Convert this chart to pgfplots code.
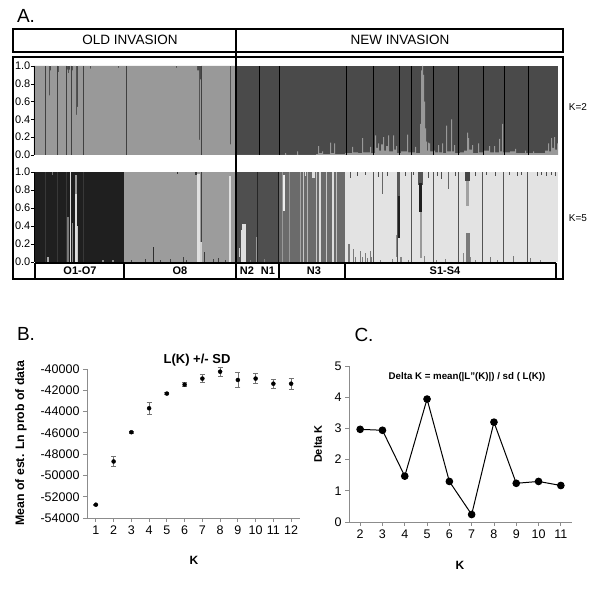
\documentclass[border=0pt]{standalone}
\usepackage{fontspec}
\setmainfont{Liberation Sans}
\usepackage{pgfplots}
\pgfplotsset{compat=1.18}
\newcommand{\bx}[5]{\addplot[draw=none,fill=#1,forget plot] coordinates {(#2,#4)(#2,#5)(#3,#5)(#3,#4)} -- cycle;}
\newcommand{\fs}[1]{\fontsize{#1}{#1}\selectfont}
\pgfplotsset{
  structax/.style={anchor=south west, scale only axis, width=524pt, xmin=34, xmax=558, ymin=0, ymax=1,
    axis x line=none, axis y line*=left, axis line style={black, line width=0.6pt},
    ytick={0,0.2,0.4,0.6,0.8,1}, yticklabels={0.0,0.2,0.4,0.6,0.8,1.0},
    tick align=outside, major tick length=3pt, tick style={black},
    y tick label style={font=\fs{11}, inner sep=0.5pt}, axis on top, clip=true},
  smallax/.style={anchor=south west, scale only axis, axis x line*=bottom, axis y line*=left,
    axis line style={draw=black!45, line width=0.8pt}, tick style={black!45, line width=0.8pt},
    tick align=outside, major tick length=4pt, tick label style={font=\fs{12.5}}, clip=false,
    scaled ticks=false, /pgf/number format/assume math mode=true}
}
\begin{document}
\begin{tikzpicture}[x=1pt,y=1pt]
\path[use as bounding box] (0pt,0pt) rectangle (600pt,597pt);

% ---------------- K=2 ----------------
\begin{axis}[structax, at={(34pt,442pt)}, height=89pt]
\addplot[draw=none, fill=black!71] coordinates {(34,1)(558,1)} \closedcycle;
\addplot[const plot, draw=none, fill=black!40] coordinates {
(34,1)(49,0.67)(50,0.95)(51,1)(58,0.93)(59,1)(67,0.96)(68,0.92)(69,0.96)(70,1)(72,0.95)(73,1)(76,0.45)(77,0.54)(78,1)(90,0.97)(91,1)(118,0.98)(119,1)(176,0.98)(177,1)(197,0.95)(199,0.17)(200,0.85)(201,1)(230,0.12)(231,1)
(236,0)(285,0.02)(286,0)(297,0.04)(298,0)(316,0.01)(318,0.1)(319,0.02)(322,0.04)(323,0.01)(330,0.14)(331,0.02)(334,0.13)(335,0.01)(345,0.02)(352,0.09)(353,0.03)(358,0.02)(362,0.19)(363,0.03)(370,0.09)(371,0.02)(375,0.22)(376,0.08)(378,0.13)(379,0.05)(381,0.12)(383,0.2)(384,0.05)(386,0.1)(388,0.22)(389,0.04)(393,0.22)(394,0.06)(396,0.1)(397,0.02)(401,0.04)(407,0.23)(408,0.03)(413,0.03)(415,0.09)(416,0.02)(420,0.35)(421,0.95)(422,1)(423,0.9)(424,0.6)(425,0.3)(426,0.15)(427,0.05)(428,0.14)(429,0.13)(430,0.04)(433,0.05)(435,0.03)(438,0.11)(439,0.03)(442,0.13)(443,0.02)(446,0.33)(447,0.04)(451,0.4)(452,0.04)(454,0.11)(455,0.02)(460,0.03)(464,0.05)(467,0.25)(468,0.19)(469,0.06)(472,0.11)(473,0.02)(478,0.13)(479,0.03)(484,0.05)(489,0.1)(490,0.03)(494,0.1)(495,0.03)(499,0.18)(500,0.04)(502,0.35)(503,0.03)(510,0.04)(515,0.07)(516,0.02)(525,0.05)(526,0.02)(533,0.04)(534,0.02)(545,0.05)(548,0.13)(549,0.04)(551,0.19)(552,0.08)(554,0.2)(555,0.06)(557,0.13)(558,0.13)
} \closedcycle;
\addplot[ycomb, black!75, line width=0.5pt, mark=none] coordinates {(45,1)(57,1)(66,1)(71,1)(83,1)(126,1)(201,1)};
\addplot[ycomb, black, line width=0.5pt, mark=none] coordinates {(259,1)(279,1)(346,1)(373,1)(399,1)(411,1)(433,1)(458,1)(483,1)(504,1)(528,1)};
\end{axis}

% ---------------- K=5 ----------------
\begin{axis}[structax, at={(34pt,335pt)}, height=90pt]
\bx{black!88}{34}{124}{0}{1}
\bx{black!39}{124}{236}{0}{1}
\bx{black!69}{236}{279}{0}{1}
\bx{black!58}{279}{345}{0}{1}
\bx{black!11}{345}{558}{0}{1}
% O1-O7
\bx{black!78}{45}{45.6}{0}{1}\bx{black!78}{57}{57.6}{0}{1}\bx{black!78}{66}{66.6}{0}{1}\bx{black!78}{83}{83.6}{0}{1}
\bx{black!34}{47}{48.5}{0}{0.06}
\bx{black!52}{67.3}{68.5}{0}{0.5}
\bx{black!13}{69.8}{71.3}{0}{1}
\bx{black!46}{72}{73.2}{0}{0.43}
\bx{black!13}{75}{76.5}{0}{0.76}\bx{black!40}{75}{76.5}{0.76}{0.97}
\bx{black!22}{77}{78.3}{0}{0.4}
\bx{black!55}{52}{53}{0.97}{1}
\bx{black!45}{102}{103.5}{0}{0.02}\bx{black!45}{112}{113.5}{0}{0.02}
% O8
\bx{black!12}{197}{200}{0}{0.98}
\bx{black!18}{200}{202}{0}{0.22}
\bx{black!75}{200.6}{201.3}{0.22}{1}
\bx{black!12}{229}{231}{0}{0.96}
\bx{black!82}{152.5}{153.8}{0}{0.17}
\bx{black!78}{204}{205.2}{0}{0.11}
\bx{black!75}{131}{132}{0}{0.02}\bx{black!75}{145}{146}{0}{0.03}\bx{black!75}{160}{161}{0}{0.02}\bx{black!75}{170}{171}{0}{0.03}
\bx{black!75}{183}{184}{0}{0.05}\bx{black!75}{186}{187}{0}{0.02}\bx{black!75}{213}{214}{0}{0.03}\bx{black!75}{218}{219}{0}{0.04}\bx{black!75}{225}{226}{0}{0.02}
\bx{black!80}{177}{178}{0.98}{1}\bx{black!80}{195}{196.5}{0.97}{1}
% N2 N1
\bx{black!13}{242}{245.5}{0}{0.42}
\bx{black!13}{240.5}{242}{0}{0.35}
\bx{black!19}{238.5}{239.5}{0.05}{0.15}
\bx{black!40}{255.5}{256.5}{0}{0.28}
\bx{black!85}{257}{257.7}{0}{1}
\bx{black!90}{278.4}{279.3}{0}{1}
\bx{black!50}{250}{251}{0}{0.02}\bx{black!50}{264}{265}{0}{0.03}
% N3
\bx{black!40}{282}{283}{0}{1}
\bx{black!7}{283.3}{284.5}{0.57}{0.97}
\bx{black!40}{289}{290}{0}{1}
\bx{black!35}{299.5}{300.5}{0}{1}
\bx{black!22}{303}{304}{0}{1}
\bx{black!29}{307}{308}{0}{1}
\bx{black!22}{316}{317}{0}{1}
\bx{black!13}{319}{321}{0}{1}
\bx{black!22}{326}{327}{0}{1}
\bx{black!13}{332}{334}{0}{1}
\bx{black!25}{336}{337}{0}{1}
\bx{black!13}{312}{315}{0.93}{1}\bx{black!13}{305}{306}{0.95}{1}
% S1-S4
\bx{black!67}{373}{373.6}{0}{1}\bx{black!67}{397}{397.6}{0}{1}\bx{black!67}{411}{411.6}{0}{1}\bx{black!67}{433}{433.6}{0}{1}
\bx{black!67}{458}{458.6}{0}{1}\bx{black!67}{482}{482.6}{0}{1}\bx{black!67}{503}{503.6}{0}{1}\bx{black!67}{527}{527.6}{0}{1}
\bx{black!52}{348}{349.5}{0}{0.2}\bx{black!52}{352.5}{353.5}{0}{0.14}\bx{black!52}{355}{356}{0}{0.06}\bx{black!52}{359.5}{360.5}{0}{0.12}
\bx{black!52}{362}{363}{0}{0.05}\bx{black!52}{364.5}{365.5}{0}{0.1}\bx{black!52}{367}{368}{0}{0.04}\bx{black!52}{369.5}{370.5}{0}{0.12}\bx{black!52}{371}{372}{0}{0.06}
\bx{black!67}{350}{351}{0.93}{1}
\bx{black!60}{382}{383}{0.75}{1}
\bx{black!46}{396}{397}{0.05}{0.3}
\bx{black!65}{397}{400}{0.73}{1}\bx{black!88}{397.5}{399.8}{0.27}{0.73}
\bx{black!47}{400}{401.5}{0}{0.05}
\bx{black!67}{418}{423}{0.85}{1}\bx{black!88}{419}{422}{0.55}{0.88}\bx{black!40}{419.5}{421.5}{0.04}{0.55}
\bx{black!47}{424}{425}{0}{0.07}
\bx{black!60}{448}{449.3}{0.81}{1}
\bx{black!73}{465}{470}{0.9}{1}\bx{black!37}{466}{469}{0.62}{0.9}\bx{black!52}{466}{470}{0}{0.32}
\bx{black!47}{463}{464}{0}{0.1}\bx{black!47}{470}{471}{0}{0.05}
\bx{black!53}{489.5}{490.5}{0}{0.06}\bx{black!53}{512.5}{513.5}{0}{0.07}\bx{black!53}{529.5}{530.5}{0}{0.04}
\bx{black!70}{357}{358}{0.96}{1}\bx{black!70}{365}{366}{0.97}{1}\bx{black!70}{378}{379}{0.94}{1}\bx{black!70}{387}{388}{0.96}{1}
\bx{black!70}{405}{406}{0.95}{1}\bx{black!70}{413}{414}{0.97}{1}\bx{black!70}{428}{429}{0.93}{1}\bx{black!70}{437}{438}{0.96}{1}
\bx{black!70}{441}{442}{0.92}{1}\bx{black!70}{455}{456}{0.95}{1}\bx{black!70}{475}{476}{0.96}{1}\bx{black!70}{486}{487}{0.97}{1}
\bx{black!70}{495}{496}{0.95}{1}\bx{black!70}{509}{510}{0.97}{1}\bx{black!70}{517}{518}{0.95}{1}\bx{black!70}{521}{522}{0.97}{1}
\bx{black!70}{537}{538}{0.96}{1}\bx{black!70}{541}{542}{0.97}{1}\bx{black!70}{546}{547}{0.96}{1}\bx{black!70}{551}{552}{0.97}{1}\bx{black!70}{555}{556}{0.95}{1}
\bx{black!50}{380}{381}{0}{0.02}\bx{black!50}{392}{393}{0}{0.03}\bx{black!50}{408}{409}{0}{0.02}\bx{black!50}{436}{437}{0}{0.02}
\bx{black!50}{445}{446}{0}{0.03}\bx{black!50}{475}{476}{0}{0.02}\bx{black!50}{497}{498}{0}{0.02}\bx{black!50}{540}{541}{0}{0.02}
\end{axis}

% ---------------- frames of panel A ----------------
\draw[line width=2pt] (13pt,545pt) rectangle (563pt,568pt);
\draw[line width=2pt] (13pt,318pt) rectangle (563pt,540pt);
\draw[line width=1.2pt] (35pt,334pt) -- (556pt,334pt);
\draw[line width=1.2pt] (35pt,318pt) -- (35pt,334pt);
\draw[line width=1.2pt] (124pt,318pt) -- (124pt,334pt);
\draw[line width=1.2pt] (279pt,318pt) -- (279pt,334pt);
\draw[line width=1.2pt] (345pt,318pt) -- (345pt,334pt);
\draw[line width=1.2pt] (556pt,318pt) -- (556pt,334pt);
\draw[line width=2pt] (236pt,318pt) -- (236pt,568pt);
\node[font=\fs{13.5}] at (130pt,557pt) {OLD INVASION};
\node[font=\fs{13.5}] at (400pt,557pt) {NEW INVASION};
\node[font=\fs{10}] at (578pt,490pt) {K=2};
\node[font=\fs{10}] at (578pt,379pt) {K=5};
\node[font=\bfseries\fs{11}] at (80pt,326pt) {O1-O7};
\node[font=\bfseries\fs{11}] at (180pt,326pt) {O8};
\node[font=\bfseries\fs{11}] at (247pt,326pt) {N2};
\node[font=\bfseries\fs{11}] at (268pt,326pt) {N1};
\node[font=\bfseries\fs{11}] at (314pt,326pt) {N3};
\node[font=\bfseries\fs{11}] at (445pt,326pt) {S1-S4};
\node[font=\fs{19}] at (26pt,581pt) {A.};

% ---------------- panel B ----------------
\node[font=\fs{19}] at (26pt,263pt) {B.};
\begin{axis}[smallax, at={(87pt,79pt)}, width=213pt, height=149pt,
  xmin=0.5, xmax=12.5, ymin=-54000, ymax=-40000,
  xtick={1,2,3,4,5,6,7,8,9,10,11,12},
  xticklabels={1,2,3,4,5,6,7,8,9,10,11,12},
  ytick={-54000,-52000,-50000,-48000,-46000,-44000,-42000,-40000},
  yticklabels={-54000,-52000,-50000,-48000,-46000,-44000,-42000,-40000}]
\addplot[only marks, mark=*, mark size=2pt, black,
  error bars/.cd, y dir=both, y explicit,
  error bar style={black!55, line width=0.6pt},
  error mark options={rotate=90, mark size=2.5pt, black!55, line width=0.6pt}]
  table[x=k, y=v, y error=e] {
k v e
1 -52750 60
2 -48690 470
3 -45940 90
4 -43690 550
5 -42310 90
6 -41470 190
7 -40900 360
8 -40250 400
9 -41030 700
10 -40900 470
11 -41380 400
12 -41380 520
};
\end{axis}
\node[font=\bfseries\fs{13}] at (197pt,237pt) {L(K) +/- SD};
\node[font=\bfseries\fs{12.3}, rotate=90] at (21pt,154pt) {Mean of est. Ln prob of data};
\node[font=\bfseries\fs{12}] at (194pt,37pt) {K};

% ---------------- panel C ----------------
\node[font=\fs{19}] at (364pt,262pt) {C.};
\begin{axis}[smallax, at={(349pt,75pt)}, width=223pt, height=156pt,
  xmin=1.5, xmax=11.5,
  xtick={2,3,4,5,6,7,8,9,10,11}, xticklabels={2,3,4,5,6,7,8,9,10,11},
  ymin=0, ymax=5, ytick={0,1,2,3,4,5}, yticklabels={0,1,2,3,4,5}]
\addplot[black, line width=1pt, mark=*, mark size=3.3pt] coordinates {
(2,2.97)(3,2.94)(4,1.47)(5,3.94)(6,1.30)(7,0.24)(8,3.20)(9,1.24)(10,1.30)(11,1.17)};
\end{axis}
\node[font=\bfseries\fs{9.7}] at (467pt,220pt) {Delta K = mean(|L''(K)|) / sd ( L(K))};
\node[font=\bfseries\fs{11}, rotate=90] at (318pt,153pt) {Delta K};
\node[font=\bfseries\fs{12}] at (460pt,32pt) {K};
\end{tikzpicture}
\end{document}
